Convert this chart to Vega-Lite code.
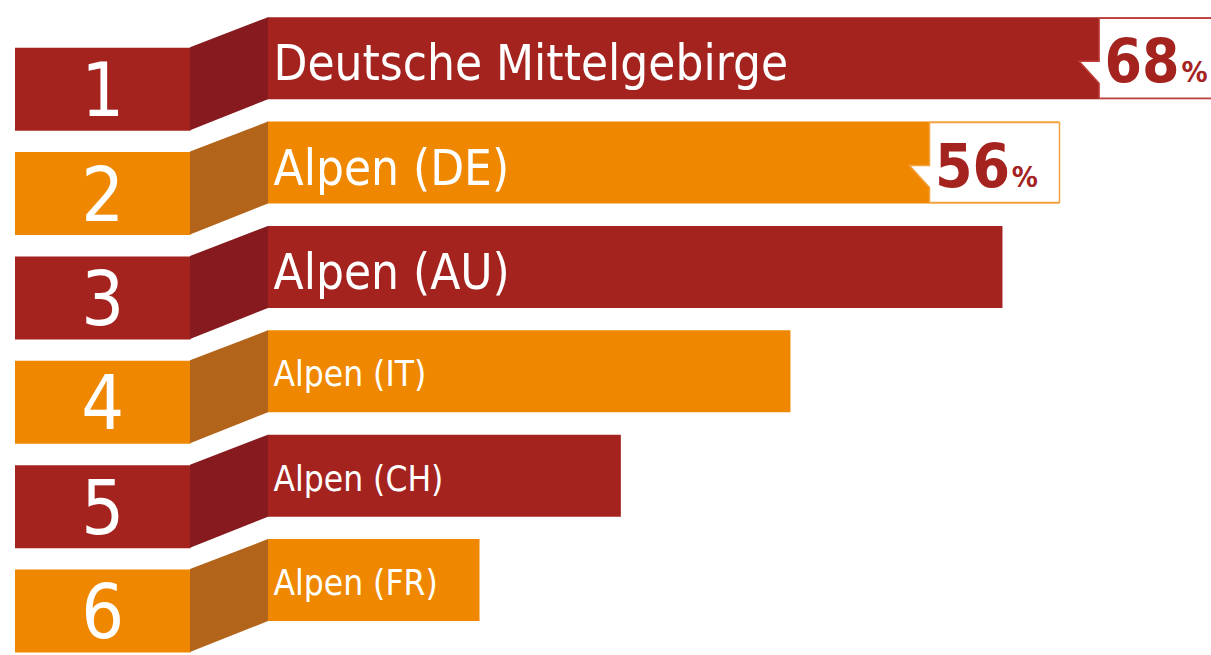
{
  "$schema": "https://vega.github.io/schema/vega-lite/v6.json",
  "width": 1211,
  "height": 655,
  "autosize": {"type": "none"},
  "padding": 0,
  "background": "white",
  "config": {"view": {"stroke": null}},
  "data": {"values": [
    {"rank": 1, "region": "Deutsche Mittelgebirge", "value": 68},
    {"rank": 2, "region": "Alpen (DE)", "value": 56},
    {"rank": 3, "region": "Alpen (AU)", "value": 52},
    {"rank": 4, "region": "Alpen (IT)", "value": 37},
    {"rank": 5, "region": "Alpen (CH)", "value": 25},
    {"rank": 6, "region": "Alpen (FR)", "value": 15}
  ]},
  "encoding": {
    "y": {"field": "rank", "type": "quantitative", "axis": null,
          "scale": {"domain": [0.4906, 6.6698], "reverse": true, "nice": false, "zero": false}}
  },
  "layer": [
    {
      "mark": {"type": "bar", "orient": "horizontal", "size": 82},
      "encoding": {
        "x": {"field": "value", "type": "quantitative", "axis": null,
              "scale": {"domain": [-18.926, 66.754], "nice": false, "zero": false}},
        "x2": {"datum": 0},
        "color": {"field": "rank", "type": "ordinal", "legend": null,
                  "scale": {"domain": [1,2,3,4,5,6], "range": ["#a4231f","#ef8800","#a4231f","#ef8800","#a4231f","#ef8800"]}}
      }
    },
    {
      "mark": {"type": "bar", "orient": "horizontal", "size": 83, "yOffset": 31},
      "encoding": {
        "x": {"datum": -17.865, "type": "quantitative", "axis": null,
              "scale": {"domain": [-18.926, 66.754], "nice": false, "zero": false}},
        "x2": {"datum": -5.448},
        "color": {"field": "rank", "type": "ordinal", "legend": null,
                  "scale": {"domain": [1,2,3,4,5,6], "range": ["#a4231f","#ef8800","#a4231f","#ef8800","#a4231f","#ef8800"]}}
      }
    },
    {
      "mark": {"type": "point", "filled": true, "opacity": 1, "strokeWidth": 0, "yOffset": 15.5, "size": 12769,
               "shape": "M -0.69 -0.469 L 0.69 -1 L 0.69 0.451 L -0.69 1 Z"},
      "encoding": {
        "x": {"datum": -2.724, "type": "quantitative", "axis": null,
              "scale": {"domain": [-18.926, 66.754], "nice": false, "zero": false}},
        "color": {"field": "rank", "type": "ordinal", "legend": null,
                  "scale": {"domain": [1,2,3,4,5,6], "range": ["#861a1f","#b3641b","#861a1f","#b3641b","#861a1f","#b3641b"]}}
      }
    },
    {
      "transform": [{"filter": "datum.rank <= 2"}],
      "mark": {"type": "point", "filled": true, "fill": "white", "opacity": 1, "strokeWidth": 1.5, "xOffset": -64.5, "size": 16900,
               "shape": "M -1 -0.615 L 1 -0.615 L 1 0.615 L -1 0.615 L -1 0.385 L -1.308 0.046 L -1 0.046 Z"},
      "encoding": {
        "x": {"field": "value", "type": "quantitative", "axis": null,
              "scale": {"domain": [-18.926, 66.754], "nice": false, "zero": false}},
        "stroke": {"field": "rank", "type": "ordinal", "legend": null,
                   "scale": {"domain": [1,2], "range": ["#c0403b","#f2a040"]}}
      }
    },
    {
      "transform": [{"filter": "datum.rank <= 2"}],
      "mark": {"type": "text", "align": "right", "baseline": "alphabetic", "dx": -49, "dy": 24,
               "font": "DejaVu Sans Condensed, sans-serif", "fontWeight": "bold", "fontSize": 60, "color": "#a4231f"},
      "encoding": {
        "x": {"field": "value", "type": "quantitative", "axis": null,
              "scale": {"domain": [-18.926, 66.754], "nice": false, "zero": false}},
        "text": {"field": "value", "type": "quantitative"}
      }
    },
    {
      "transform": [{"filter": "datum.rank <= 2"}],
      "mark": {"type": "text", "align": "right", "baseline": "alphabetic", "dx": -21, "dy": 24,
               "font": "DejaVu Sans Condensed, sans-serif", "fontWeight": "bold", "fontSize": 29, "color": "#a4231f"},
      "encoding": {
        "x": {"field": "value", "type": "quantitative", "axis": null,
              "scale": {"domain": [-18.926, 66.754], "nice": false, "zero": false}},
        "text": {"value": "%"}
      }
    },
    {
      "mark": {"type": "text", "align": "center", "baseline": "alphabetic", "dy": 58,
               "font": "DejaVu Sans Condensed, sans-serif", "fontSize": 75, "color": "white"},
      "encoding": {
        "x": {"datum": -11.656, "type": "quantitative", "axis": null,
              "scale": {"domain": [-18.926, 66.754], "nice": false, "zero": false}},
        "text": {"field": "rank", "type": "quantitative"}
      }
    },
    {
      "transform": [{"filter": "datum.rank <= 3"}],
      "mark": {"type": "text", "align": "left", "baseline": "alphabetic", "dx": 6, "dy": 22,
               "font": "DejaVu Sans Condensed, sans-serif", "fontWeight": "normal", "fontSize": 49, "color": "white"},
      "encoding": {
        "x": {"datum": 0, "type": "quantitative", "axis": null,
              "scale": {"domain": [-18.926, 66.754], "nice": false, "zero": false}},
        "text": {"field": "region", "type": "nominal"}
      }
    },
    {
      "transform": [{"filter": "datum.rank > 3"}],
      "mark": {"type": "text", "align": "left", "baseline": "alphabetic", "dx": 6, "dy": 15,
               "font": "DejaVu Sans Condensed, sans-serif", "fontWeight": "normal", "fontSize": 35, "color": "white"},
      "encoding": {
        "x": {"datum": 0, "type": "quantitative", "axis": null,
              "scale": {"domain": [-18.926, 66.754], "nice": false, "zero": false}},
        "text": {"field": "region", "type": "nominal"}
      }
    }
  ],
  "resolve": {"scale": {"color": "independent", "stroke": "independent"}}
}
